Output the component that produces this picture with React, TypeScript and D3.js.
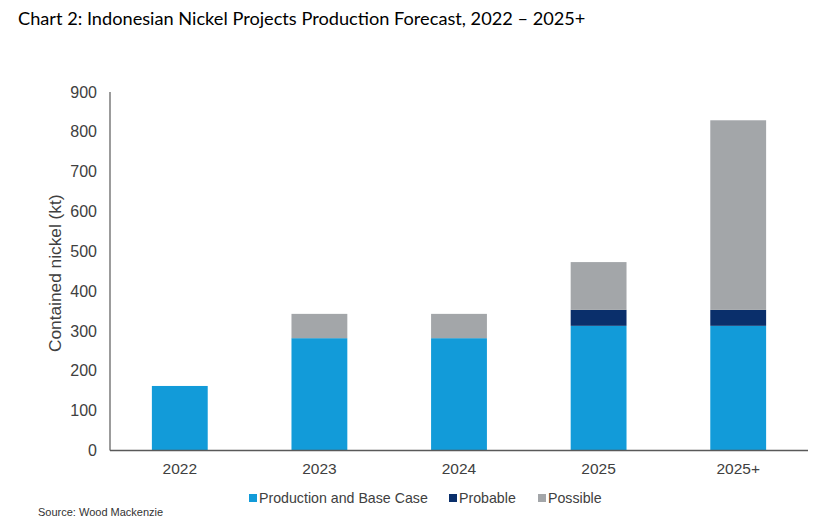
import React from "react";
import * as d3 from "d3";

const categories = ["2022", "2023", "2024", "2025", "2025+"];
const baseCase = [162, 282, 282, 313, 313];
const probable = [0, 0, 0, 40, 40];
const possible = [0, 61, 61, 120, 476];
const yTicks = [0, 100, 200, 300, 400, 500, 600, 700, 800, 900];
const seriesNames = ["Production and Base Case", "Probable", "Possible"];
const seriesColors = ["#129bd9", "#0a2f6b", "#a3a6a9"];

const W = 826;
const H = 526;
const left = 110;
const right = 808;
const top = 92;
const bottom = 450.5;

export default function App() {
  const x = d3.scaleBand<string>().domain(categories).range([left, right]).paddingInner(0.6).paddingOuter(0.3);
  const y = d3.scaleLinear().domain([0, 900]).range([bottom, top]);

  const rows = categories.map((c, i) => ({ cat: c, base: baseCase[i], probable: probable[i], possible: possible[i] }));
  const stack = d3.stack<any>().keys(["base", "probable", "possible"])(rows);

  const legendItems = [
    { name: seriesNames[0], color: seriesColors[0], x: 249 },
    { name: seriesNames[1], color: seriesColors[1], x: 449 },
    { name: seriesNames[2], color: seriesColors[2], x: 538 },
  ];

  return (
    <svg width={W} height={H} style={{ position: "absolute", left: 0, top: 0, background: "#fff" }}>
      <text x={18} y={25} fontFamily="Lato, 'Open Sans', sans-serif" fontSize={18.2} fill="#000">
        Chart 2: Indonesian Nickel Projects Production Forecast, 2022 – 2025+
      </text>

      {stack.map((s, si) =>
        s.map((d, i) =>
          d[1] - d[0] > 0 ? (
            <rect
              key={`${si}-${i}`}
              x={x(categories[i])}
              width={x.bandwidth()}
              y={y(d[1])}
              height={y(d[0]) - y(d[1])}
              fill={seriesColors[si]}
            />
          ) : null
        )
      )}

      <line x1={left} x2={left} y1={top} y2={bottom} stroke="#595959" strokeWidth={1.2} />
      <line x1={left} x2={right} y1={bottom} y2={bottom} stroke="#595959" strokeWidth={1.5} />

      {yTicks.map((t) => (
        <text
          key={t}
          x={97}
          y={y(t)}
          dy="0.35em"
          textAnchor="end"
          fontFamily="'Liberation Sans', Arial, sans-serif"
          fontSize={16}
          fill="#404040"
        >
          {t}
        </text>
      ))}

      <text
        transform={`translate(61, ${(top + bottom) / 2 + 2}) rotate(-90)`}
        textAnchor="middle"
        fontFamily="'Liberation Sans', Arial, sans-serif"
        fontSize={17.3}
        fill="#404040"
      >
        Contained nickel (kt)
      </text>

      {categories.map((c) => (
        <text
          key={c}
          x={(x(c) as number) + x.bandwidth() / 2}
          y={474}
          textAnchor="middle"
          fontFamily="'Liberation Sans', Arial, sans-serif"
          fontSize={15.5}
          fill="#404040"
        >
          {c}
        </text>
      ))}

      {legendItems.map((l) => (
        <g key={l.name}>
          <rect x={l.x} y={494} width={8} height={8} fill={l.color} />
          <text
            x={l.x + 10}
            y={503}
            fontFamily="'Liberation Sans', Arial, sans-serif"
            fontSize={14.2}
            fill="#404040"
          >
            {l.name}
          </text>
        </g>
      ))}

      <text x={38} y={516} fontFamily="'Liberation Sans', Arial, sans-serif" fontSize={11} fill="#333">
        Source: Wood Mackenzie
      </text>
    </svg>
  );
}
